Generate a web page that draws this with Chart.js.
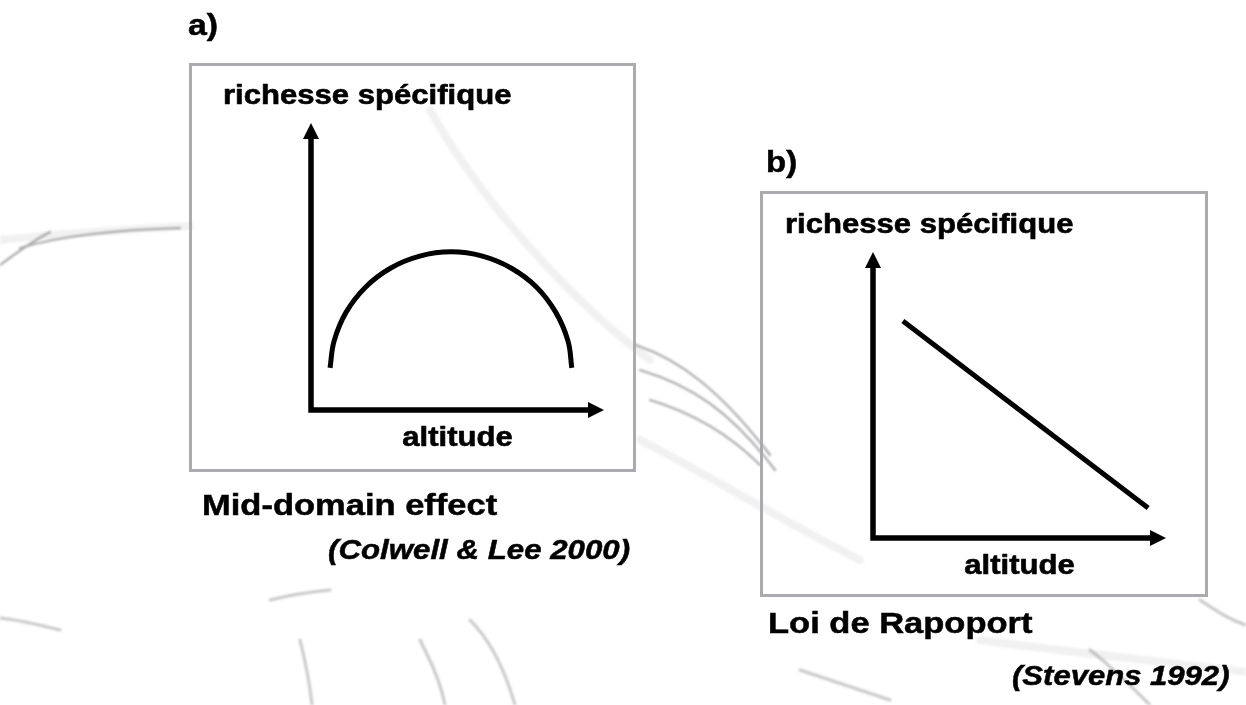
<!DOCTYPE html>
<html lang="fr">
<head>
<meta charset="utf-8">
<title>Richesse spécifique et altitude</title>
<script src="https://cdn.jsdelivr.net/npm/chart.js@4.4.1/dist/chart.umd.min.js"></script>
<style>
  html, body { margin: 0; padding: 0; background: #ffffff; }
  body { width: 1246px; height: 705px; position: relative; overflow: hidden;
         font-family: "Liberation Sans", Arial, Helvetica, sans-serif; }
  .sketch { position: absolute; left: 0; top: 0; width: 1246px; height: 705px; filter: blur(1px); }
  .box { position: absolute; box-sizing: border-box; border: 3px solid #a9abae; }
  .plot { position: absolute; }
  .label { position: absolute; white-space: nowrap; line-height: 1; color: #000;
           font-weight: bold; transform-origin: 0 0; -webkit-text-stroke: 0.5px #000; }
  .label.cite { font-style: italic; }
</style>
</head>
<body>

<!-- faint landscape sketch behind the diagrams -->
<svg class="sketch" viewBox="0 0 1246 705" xmlns="http://www.w3.org/2000/svg" fill="none" stroke-linecap="round">
  <g stroke="#a8a8a8" opacity="0.16" stroke-width="8">
    <path d="M0 240 C60 234 120 230 190 226"/>
    <path d="M430 110 C480 200 570 300 650 360"/>
    <path d="M640 440 C700 470 780 520 860 560"/>
    <path d="M980 640 C1050 650 1150 660 1246 672"/>
  </g>
  <g stroke="#555" opacity="0.5" stroke-width="2.2">
    <path d="M20 248 C60 236 110 230 180 228"/>
    <path d="M0 265 C20 250 35 240 50 232"/>
    <path d="M636 345 C680 360 720 390 770 455"/>
    <path d="M640 370 C690 385 730 410 775 470"/>
    <path d="M650 400 C700 415 735 440 760 465"/>
  </g>
  <g stroke="#777" opacity="0.4" stroke-width="3">
    <path d="M0 618 C20 620 40 625 60 630"/>
    <path d="M270 600 C290 595 310 592 330 590"/>
    <path d="M300 640 C305 660 310 685 312 705"/>
    <path d="M420 640 C430 660 440 680 445 705"/>
    <path d="M470 620 C490 640 505 670 515 705"/>
    <path d="M1090 650 C1110 665 1130 685 1150 705"/>
    <path d="M800 670 C830 680 860 690 890 700"/>
    <path d="M1200 600 C1215 610 1230 620 1246 625"/>
  </g>
</svg>

<div class="box" style="left:189px; top:63px; width:447px; height:409px;"></div>
<div class="plot" style="left:189px; top:63px; width:447px; height:409px;"><canvas id="chartA"></canvas></div>

<div class="box" style="left:760px; top:191px; width:448px; height:406px;"></div>
<div class="plot" style="left:760px; top:191px; width:448px; height:406px;"><canvas id="chartB"></canvas></div>

<script>
// ---- data ---------------------------------------------------------------
// a) mid-domain effect: richness peaks at intermediate altitude
const altitudeA = [0.65, 0.79, 1.20, 1.86, 2.71, 3.71, 4.78, 5.85, 6.84, 7.70, 8.35, 8.77, 8.90];
const richnessA = [1.47, 2.41, 3.41, 4.28, 4.94, 5.36, 5.51, 5.36, 4.94, 4.28, 3.41, 2.41, 1.47];

// b) Rapoport's rule: richness declines steadily with altitude
const altitudeB = [1.02, 9.39];
const richnessB = [7.59, 1.05];

// axis extent (no tick values are shown, only arrows)
const axisMin = 0;
const axisMax = 10;

// texts
const yAxisTitle = 'richesse spécifique';
const xAxisTitle = 'altitude';
const panelLabels = ['a)', 'b)'];
const panelTitles = ['Mid-domain effect', 'Loi de Rapoport'];
const panelCitations = ['(Colwell & Lee 2000)', '(Stevens 1992)'];

// ---- helpers ------------------------------------------------------------
const FONT = '"Liberation Sans", Arial, Helvetica, sans-serif';
const TITLE_SIZE = 27.5;
const TITLE_STRETCH = 1.13;

function points(xs, ys) {
  return xs.map((x, i) => ({ x: x, y: ys[i] }));
}

// Draws both axes as thick arrows plus their titles
const arrowAxes = {
  id: 'arrowAxes',
  afterDatasetsDraw(chart, args, opts) {
    const ctx = chart.ctx;
    const xs = chart.scales.x, ys = chart.scales.y;
    const x0 = xs.getPixelForValue(axisMin), x1 = xs.getPixelForValue(axisMax);
    const y0 = ys.getPixelForValue(axisMin), y1 = ys.getPixelForValue(axisMax);
    const head = 16, half = 8;
    ctx.save();
    ctx.strokeStyle = '#000';
    ctx.fillStyle = '#000';
    ctx.lineWidth = 5.5;
    ctx.lineJoin = 'miter';
    ctx.lineCap = 'butt';
    ctx.beginPath();
    ctx.moveTo(x0, y1 + head - 1);
    ctx.lineTo(x0, y0);
    ctx.lineTo(x1 - head + 1, y0);
    ctx.stroke();
    // vertical arrow head
    ctx.beginPath();
    ctx.moveTo(x0, y1);
    ctx.lineTo(x0 + half, y1 + head);
    ctx.lineTo(x0 - half, y1 + head);
    ctx.closePath();
    ctx.fill();
    // horizontal arrow head
    ctx.beginPath();
    ctx.moveTo(x1, y0);
    ctx.lineTo(x1 - head, y0 - half);
    ctx.lineTo(x1 - head, y0 + half);
    ctx.closePath();
    ctx.fill();

    // axis titles (slightly emboldened)
    ctx.font = 'bold ' + TITLE_SIZE + 'px ' + FONT;
    ctx.textBaseline = 'alphabetic';
    ctx.lineWidth = 0.6;
    ctx.lineJoin = 'round';
    ctx.save();
    ctx.translate(x0 - 88, y1 - 19);
    ctx.scale(TITLE_STRETCH, 1);
    ctx.textAlign = 'left';
    ctx.fillText(opts.yTitle, 0, 0);
    ctx.strokeText(opts.yTitle, 0, 0);
    ctx.restore();
    ctx.save();
    ctx.translate((x0 + x1) / 2, y0 + 36);
    ctx.scale(TITLE_STRETCH, 1);
    ctx.textAlign = 'center';
    ctx.fillText(opts.xTitle, 0, 0);
    ctx.strokeText(opts.xTitle, 0, 0);
    ctx.restore();
    ctx.restore();
  }
};

function makeChart(id, xs, ys, padding) {
  return new Chart(document.getElementById(id), {
    type: 'line',
    data: {
      datasets: [{
        data: points(xs, ys),
        borderColor: '#000',
        borderWidth: 5,
        borderCapStyle: 'butt',
        pointRadius: 0,
        tension: 0.4,
        fill: false
      }]
    },
    options: {
      responsive: true,
      maintainAspectRatio: false,
      animation: false,
      devicePixelRatio: 1,
      layout: { padding: padding },
      scales: {
        x: { type: 'linear', min: axisMin, max: axisMax, display: false },
        y: { type: 'linear', min: axisMin, max: axisMax, display: false }
      },
      plugins: {
        legend: { display: false },
        tooltip: { enabled: false },
        arrowAxes: { yTitle: yAxisTitle, xTitle: xAxisTitle }
      }
    },
    plugins: [arrowAxes]
  });
}

makeChart('chartA', altitudeA, richnessA, { left: 122, right: 32, top: 60, bottom: 62 });
makeChart('chartB', altitudeB, richnessB, { left: 113, right: 42, top: 61, bottom: 59 });

// ---- panel labels and captions (positioned by their baselines) -----------
function addLabel(text, left, baseline, size, stretch, italic) {
  const el = document.createElement('div');
  el.className = 'label' + (italic ? ' cite' : '');
  el.textContent = text;
  el.style.fontSize = size + 'px';
  el.style.left = left + 'px';
  el.style.top = (baseline - 0.8465 * size) + 'px';
  el.style.transform = 'scaleX(' + stretch + ')';
  document.body.appendChild(el);
}

addLabel(panelLabels[0], 188, 35, 30, 1.13, false);
addLabel(panelLabels[1], 766, 172, 30, 1.1, false);
addLabel(panelTitles[0], 202, 515, 30, 1.15, false);
addLabel(panelCitations[0], 328, 560, 27, 1.157, true);
addLabel(panelTitles[1], 768, 633, 30, 1.15, false);
addLabel(panelCitations[1], 1012, 686, 27, 1.15, true);
</script>
</body>
</html>
